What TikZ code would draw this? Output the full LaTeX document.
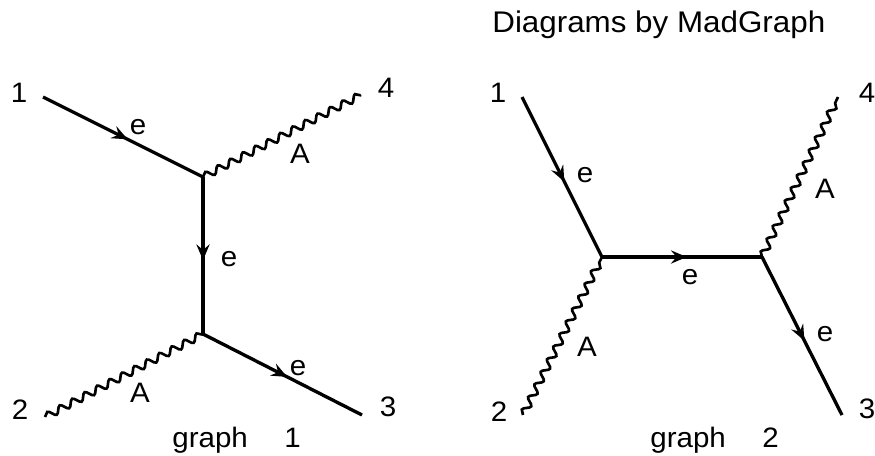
\documentclass[tikz,border=0pt]{standalone}
\usepackage{fontspec}
\setmainfont{Liberation Sans}[FakeStretch=1.05]
\usetikzlibrary{arrows.meta,decorations.pathmorphing,decorations.markings}

\begin{document}
\begin{tikzpicture}[x=0.02cm, y=-0.02cm, font=\fontsize{16}{18}\selectfont,
  fermion/.style={line width=1.9pt, postaction={decorate},
    decoration={markings, mark=at position 0.53 with {\arrow{Stealth[length=9pt,width=7.5pt,inset=3.2pt]}}}},
  photon/.style={line width=1.5pt, decorate,
    decoration={snake, amplitude=2pt, segment length=8pt}},
  lbl/.style={inner sep=0pt}]
  % 1 unit = 1 px of the 875x456 frame
  \useasboundingbox (0,0) rectangle (875,456);

  % Graph 1
  \coordinate (g1p1) at (43,97);
  \coordinate (g1p2) at (45,417);
  \coordinate (g1p3) at (362,415);
  \coordinate (g1p4) at (361,95);
  \coordinate (g1v1) at (203,177);
  \coordinate (g1v2) at (203,334);

  \draw[fermion] (g1p1) -- (g1v1);
  \draw[fermion] (g1v1) -- (g1v2);
  \draw[fermion] (g1v2) -- (g1p3);
  \draw[photon] (g1v1) -- (g1p4);
  \draw[photon] (g1p2) -- (g1v2);

  \node[lbl] (g1n1) at (19,93) {1};
  \node[lbl] (g1n2) at (20,410) {2};
  \node[lbl] (g1n3) at (388,407) {3};
  \node[lbl] (g1n4) at (386,88) {4};
  \node[lbl] (g1e1) at (138,127) {e};
  \node[lbl] (g1e2) at (229,259) {e};
  \node[lbl] (g1e3) at (298,368) {e};
  \node[lbl] (g1a1) at (300,154) {A};
  \node[lbl] (g1a2) at (140,393) {A};
  \node[lbl, anchor=base west] (g1t) at (172,447) {graph\hspace{1.3em}1};

  % Graph 2
  \coordinate (g2p1) at (522,97);
  \coordinate (g2p2) at (523,415);
  \coordinate (g2p3) at (842,415);
  \coordinate (g2p4) at (838,97);
  \coordinate (g2v1) at (602,257);
  \coordinate (g2v2) at (762,257);

  \draw[fermion] (g2p1) -- (g2v1);
  \draw[fermion] (g2v1) -- (g2v2);
  \draw[fermion] (g2v2) -- (g2p3);
  \draw[photon] (g2v2) -- (g2p4);
  \draw[photon] (g2p2) -- (g2v1);

  \node[lbl] (g2n1) at (498,93) {1};
  \node[lbl] (g2n2) at (499,412) {2};
  \node[lbl] (g2n3) at (867,409) {3};
  \node[lbl] (g2n4) at (867,93) {4};
  \node[lbl] (g2e1) at (585,175) {e};
  \node[lbl] (g2e2) at (690,277) {e};
  \node[lbl] (g2e3) at (825,334) {e};
  \node[lbl] (g2a1) at (825,189) {A};
  \node[lbl] (g2a2) at (587,347) {A};
  \node[lbl, anchor=base west] (g2t) at (650,447) {graph\hspace{1.3em}2};

  % Title
  \node[lbl, anchor=base west, font=\fontsize{17}{19}\selectfont] (title) at (492,33) {Diagrams by MadGraph};
\end{tikzpicture}
\end{document}
